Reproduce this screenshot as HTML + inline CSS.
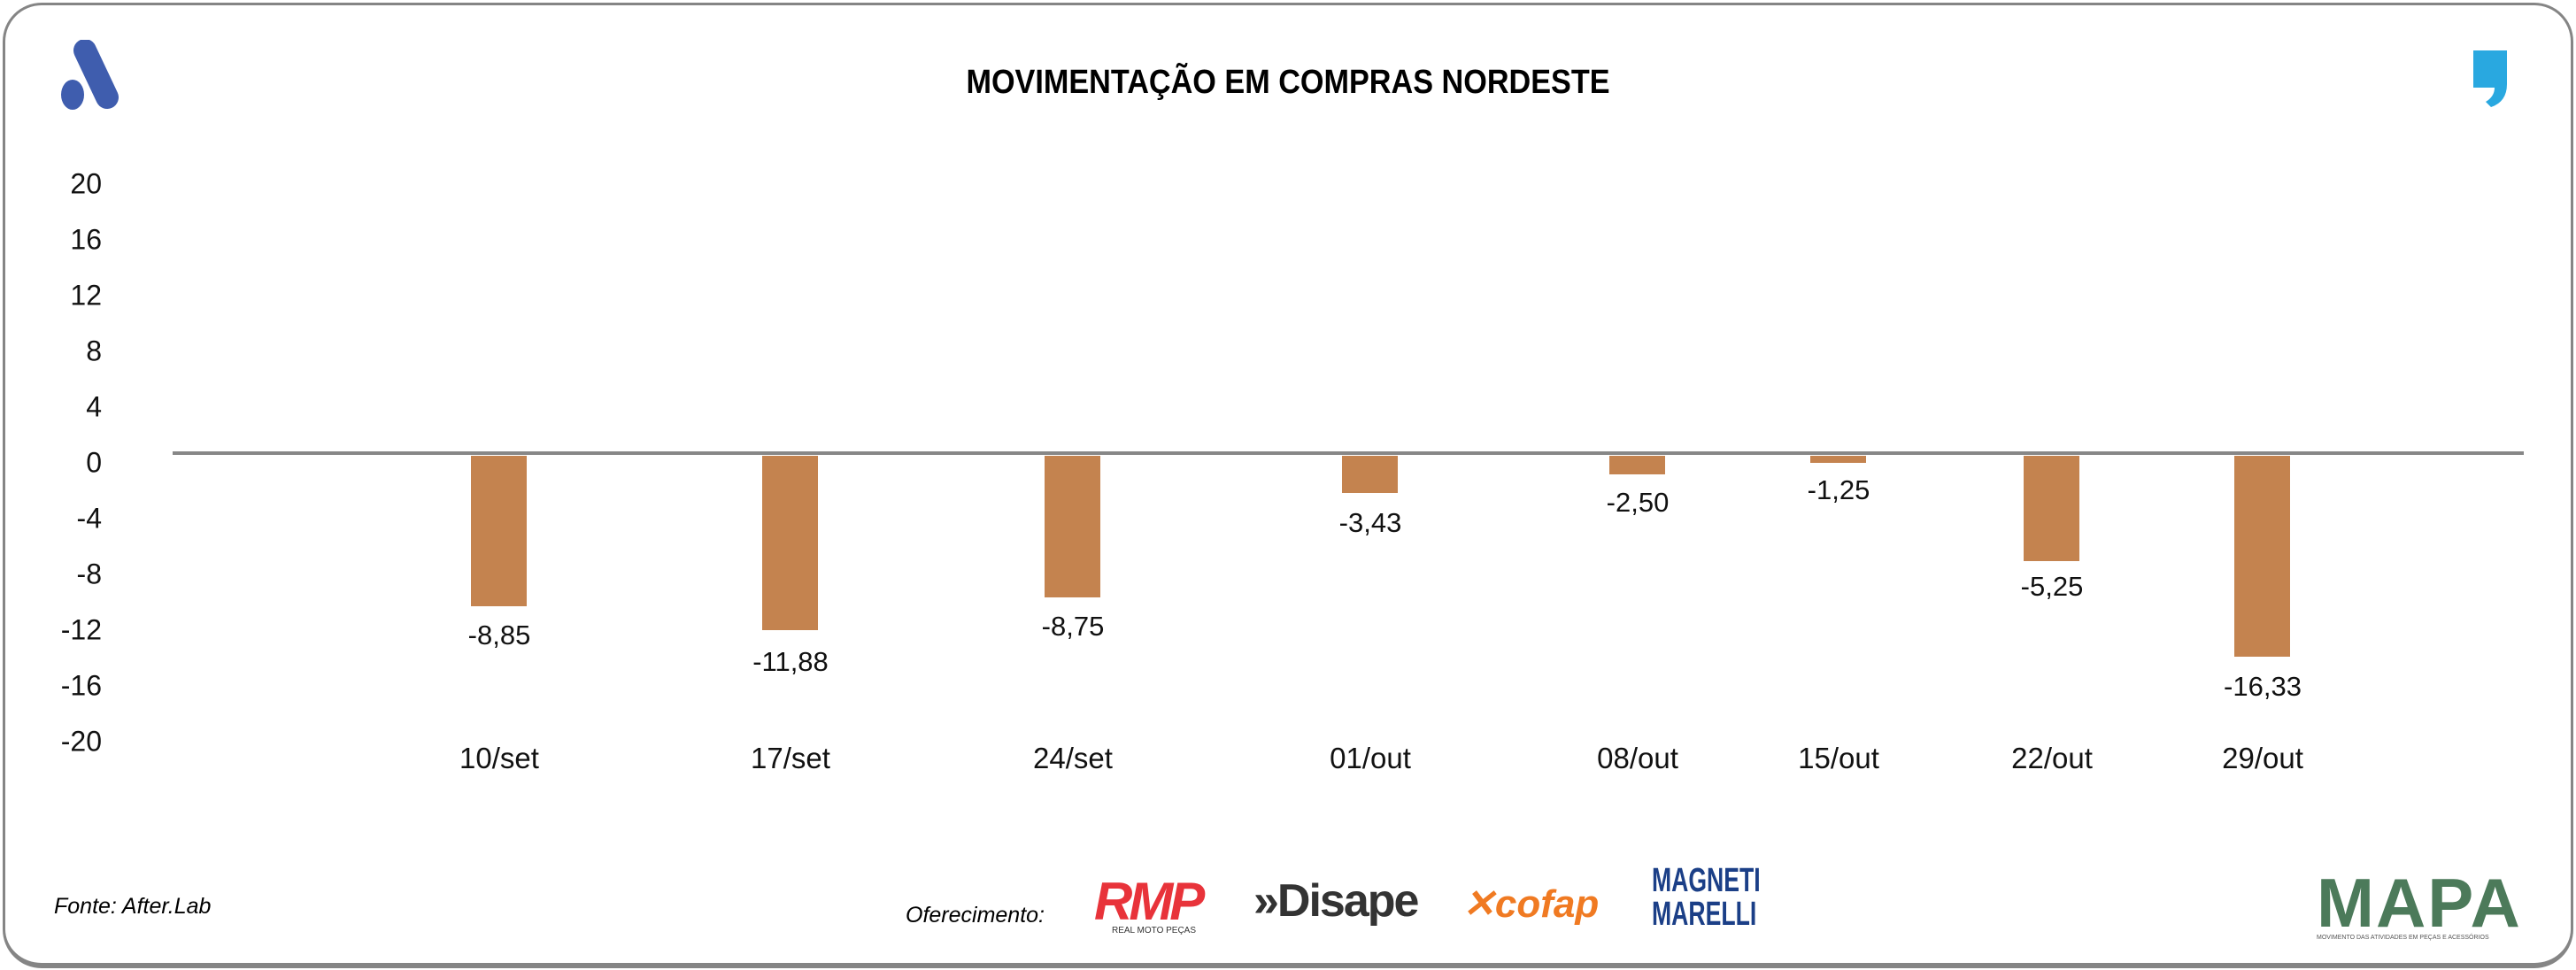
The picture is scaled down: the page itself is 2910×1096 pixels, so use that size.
<!DOCTYPE html>
<html><head><meta charset="utf-8"><style>
body{margin:0;width:2910px;height:1096px;background:#fff;position:relative;overflow:hidden;font-family:"Liberation Sans",sans-serif;}
.frame{position:absolute;left:3px;top:3px;width:2898px;height:1082px;border:3px solid #858585;border-bottom-width:6px;border-radius:44px;}
.t{position:absolute;white-space:nowrap;}
.yl{position:absolute;right:2795px;font-size:32px;color:#111;transform:translateY(-50%);}
.bar{position:absolute;width:63px;background:#C4834F;top:515px;}
.vl{position:absolute;font-size:31px;color:#111;transform:translateX(-50%);}
.xl{position:absolute;top:838px;font-size:33px;color:#111;transform:translateX(-50%);}
</style></head><body>
<div class="frame"></div>
<svg style="position:absolute;left:60px;top:45px" width="90" height="85">
<line x1="36" y1="12" x2="61" y2="65" stroke="#3F5DAE" stroke-width="26" stroke-linecap="round"/>
<ellipse cx="22" cy="62" rx="13" ry="17" fill="#3F5DAE"/>
</svg>
<svg style="position:absolute;left:2790px;top:55px" width="50" height="70">
<path d="M4 2 H42 V40 Q42 60 24 66 L18 60 Q28 54 28 44 H4 Z" fill="#29A8E0"/>
</svg>
<div class="t" style="left:0;width:2910px;text-align:center;top:72px;font-size:38px;font-weight:bold;letter-spacing:0px;transform:scaleX(0.9)">MOVIMENTAÇÃO EM COMPRAS NORDESTE</div>
<div class="yl" style="top:208px">20</div>
<div class="yl" style="top:271px">16</div>
<div class="yl" style="top:334px">12</div>
<div class="yl" style="top:397px">8</div>
<div class="yl" style="top:460px">4</div>
<div class="yl" style="top:523px">0</div>
<div class="yl" style="top:586px">-4</div>
<div class="yl" style="top:649px">-8</div>
<div class="yl" style="top:712px">-12</div>
<div class="yl" style="top:775px">-16</div>
<div class="yl" style="top:838px">-20</div>
<div style="position:absolute;left:195px;width:2656px;top:510px;height:4px;background:#878787"></div>
<div class="bar" style="left:532px;height:170px"></div>
<div class="bar" style="left:861px;height:197px"></div>
<div class="bar" style="left:1180px;height:160px"></div>
<div class="bar" style="left:1516px;height:42px"></div>
<div class="bar" style="left:1818px;height:21px"></div>
<div class="bar" style="left:2045px;height:8px"></div>
<div class="bar" style="left:2286px;height:119px"></div>
<div class="bar" style="left:2524px;height:227px"></div>
<div class="vl" style="left:564px;top:700px">-8,85</div>
<div class="vl" style="left:893px;top:730px">-11,88</div>
<div class="vl" style="left:1212px;top:690px">-8,75</div>
<div class="vl" style="left:1548px;top:573px">-3,43</div>
<div class="vl" style="left:1850px;top:550px">-2,50</div>
<div class="vl" style="left:2077px;top:536px">-1,25</div>
<div class="vl" style="left:2318px;top:645px">-5,25</div>
<div class="vl" style="left:2556px;top:758px">-16,33</div>
<div class="xl" style="left:564px">10/set</div>
<div class="xl" style="left:893px">17/set</div>
<div class="xl" style="left:1212px">24/set</div>
<div class="xl" style="left:1548px">01/out</div>
<div class="xl" style="left:1850px">08/out</div>
<div class="xl" style="left:2077px">15/out</div>
<div class="xl" style="left:2318px">22/out</div>
<div class="xl" style="left:2556px">29/out</div>
<div class="t" style="left:61px;top:1010px;font-size:25px;font-style:italic">Fonte: After.Lab</div>
<div class="t" style="left:1023px;top:1020px;font-size:25px;font-style:italic">Oferecimento:</div>
<div class="t" style="left:1236px;top:984px;font-size:60px;font-weight:bold;font-style:italic;color:#E8333A;letter-spacing:-4px">RMP</div>
<div class="t" style="left:1256px;top:1046px;font-size:10px;color:#333">REAL MOTO PEÇAS</div>
<div class="t" style="left:1416px;top:988px;font-size:52px;font-weight:bold;color:#333;letter-spacing:-2px">»Disape</div>
<div class="t" style="left:1652px;top:996px;font-size:44px;font-weight:bold;font-style:italic;color:#F07A22">✕cofap</div>
<div class="t" style="left:1866px;top:976px;font-size:38px;font-weight:bold;color:#1B3F87;line-height:38px;transform:scaleX(0.7);transform-origin:left">MAGNETI<br>MARELLI</div>
<div class="t" style="left:2617px;top:975px;font-size:78px;font-weight:bold;color:#4C7A5A;letter-spacing:2px">MAPA</div>
<div class="t" style="left:2617px;top:1056px;font-size:7px;color:#555">MOVIMENTO DAS ATIVIDADES EM PEÇAS E ACESSÓRIOS</div>
</body></html>
